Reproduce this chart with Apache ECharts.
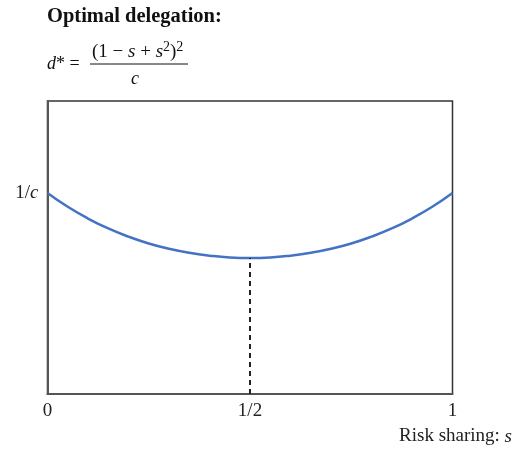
<!DOCTYPE html>
<html><head><meta charset="utf-8">
<script src="https://cdn.jsdelivr.net/npm/echarts@6/dist/echarts.min.js"></script>
<style>html,body{margin:0;padding:0;background:#fff}#c{width:512px;height:454px}</style>
</head><body><div id="c"></div>
<script>
// Risk sharing s (x) and optimal delegation d* in units of 1/c (y)
const sValues = [0, 0.05, 0.1, 0.15, 0.2, 0.25, 0.3, 0.35, 0.4, 0.45, 0.5, 0.55, 0.6, 0.65, 0.7, 0.75, 0.8, 0.85, 0.9, 0.95, 1];
const dValues = [1.00, 0.907, 0.828, 0.761, 0.706, 0.660, 0.624, 0.597, 0.578, 0.566, 0.5625, 0.566, 0.578, 0.597, 0.624, 0.660, 0.706, 0.761, 0.828, 0.907, 1.00];
const xTickValues = [0, 0.5, 1];
const xTickLabels = ['0', '1/2', '1'];
const yTickValues = [1];
const yTickLabels = ['1/c'];
const minPoint = [0.5, 0.5625];

const serif = '"Liberation Serif", "DejaVu Serif", serif';
const chart = echarts.init(document.getElementById('c'), null, {renderer: 'canvas'});
const yMin = -0.353, yMax = 1.619;
chart.setOption({
  animation: false,
  backgroundColor: '#fff',
  grid: {left: 47.5, right: 59.5, top: 101, bottom: 60, show: true, borderColor: '#333', borderWidth: 1.5},
  xAxis: {
    type: 'value', min: 0, max: 1, interval: 0.5,
    axisLine: {show: true, onZero: false, lineStyle: {color: '#555', width: 2}},
    axisTick: {show: false}, splitLine: {show: false},
    axisLabel: {
      customValues: xTickValues,
      formatter: v => { const i = xTickValues.findIndex(t => Math.abs(t - v) < 1e-9); return i >= 0 ? xTickLabels[i] : ''; },
      fontFamily: serif, fontSize: 19, color: '#222', margin: 8
    }
  },
  yAxis: {
    type: 'value', min: yMin, max: yMax,
    axisLine: {show: true, onZero: false, lineStyle: {color: '#555', width: 2}},
    axisTick: {show: false}, splitLine: {show: false},
    axisLabel: {
      customValues: yTickValues,
      formatter: v => { const i = yTickValues.findIndex(t => Math.abs(t - v) < 1e-9); return i >= 0 ? '{n|1/}{i|c}' : ''; },
      rich: {n: {fontFamily: serif, fontSize: 19, color: '#222'}, i: {fontFamily: serif, fontSize: 19, fontStyle: 'italic', color: '#222'}},
      margin: 9
    }
  },
  series: [{
    type: 'line', smooth: true, symbol: 'none',
    data: sValues.map((s, i) => [s, dValues[i]]),
    lineStyle: {color: '#4472C4', width: 2.5},
    markLine: {
      silent: true, symbol: 'none', label: {show: false},
      lineStyle: {color: '#222', type: [5, 4], width: 2},
      data: [[{coord: [minPoint[0], yMin]}, {coord: minPoint}]]
    }
  }],
  graphic: [
    {type: 'text', left: 47, top: 6, style: {text: 'Optimal delegation:', fontFamily: serif, fontSize: 20.5, fontWeight: 'bold', fill: '#111'}},
    {type: 'text', left: 47, top: 55, style: {text: '{i|d}{n|* =}', rich: {i: {fontFamily: serif, fontSize: 18, fontStyle: 'italic', fill: '#111'}, n: {fontFamily: serif, fontSize: 18, fill: '#111'}}}},
    {type: 'text', left: 92, top: 40, style: {text: '{n|(1 − }{i|s}{n| + }{i|s}{sup|2}{n|)}{sup|2}', rich: {i: {fontFamily: serif, fontSize: 19, fontStyle: 'italic', fill: '#111'}, n: {fontFamily: serif, fontSize: 19, fill: '#111'}, sup: {fontFamily: serif, fontSize: 14, fill: '#111', verticalAlign: 'top', padding: [0, 0, 10, 0]}}}},
    {type: 'line', shape: {x1: 90, y1: 64, x2: 188, y2: 64}, style: {stroke: '#111', lineWidth: 1}},
    {type: 'text', left: 131, top: 70, style: {text: 'c', fontFamily: serif, fontSize: 18, fontStyle: 'italic', fill: '#111'}},
    {type: 'text', right: 0, top: 427, style: {text: '{n|Risk sharing: }{i|s}', rich: {i: {fontFamily: serif, fontSize: 19, fontStyle: 'italic', fill: '#222'}, n: {fontFamily: serif, fontSize: 19, fill: '#222'}}}}
  ]
});
</script></body></html>
